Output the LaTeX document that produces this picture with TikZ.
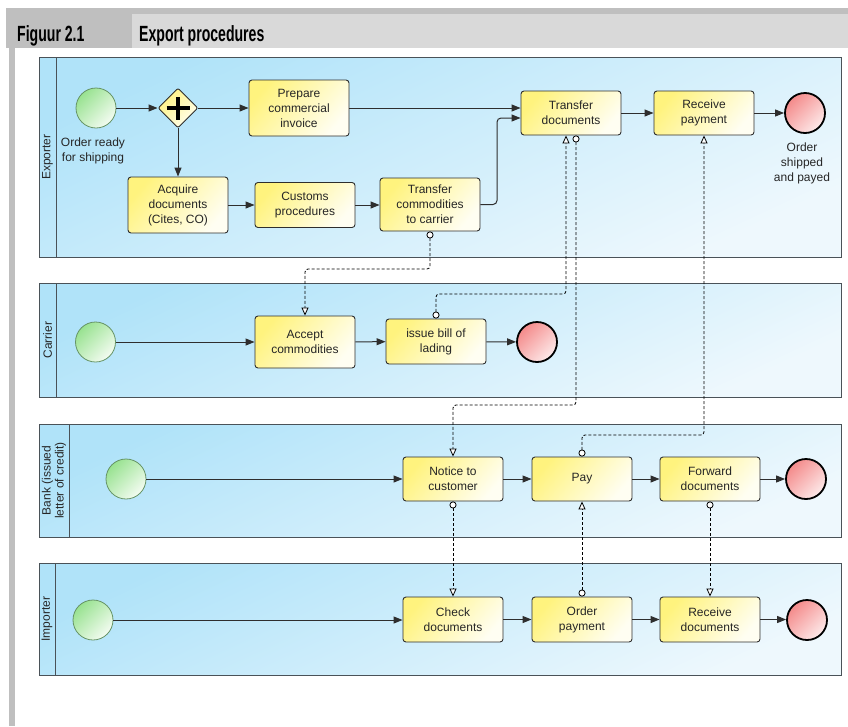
\documentclass[tikz,border=0pt]{standalone}
\usepackage{fontspec}
\setmainfont{Liberation Sans}
\newfontfamily\headfont[FakeStretch=0.64]{Liberation Sans}
\usetikzlibrary{arrows.meta,shapes.geometric,calc}
\definecolor{hdrdark}{HTML}{BFBFBF}
\definecolor{hdrlight}{HTML}{D9D9D9}
\definecolor{lanetop}{HTML}{B0E3F9}
\definecolor{lanebot}{HTML}{EEF8FD}
\definecolor{laneline}{HTML}{4A5258}
\definecolor{boxtop}{HTML}{FFF37E}
\definecolor{boxbot}{HTML}{FFFEF2}
\definecolor{greentop}{HTML}{98E290}
\definecolor{greenbot}{HTML}{F4FCF2}
\definecolor{redtop}{HTML}{F48A8A}
\definecolor{redbot}{HTML}{FDEAEA}
\definecolor{linecol}{HTML}{2E2E2E}
\tikzset{
  lane/.style={draw=laneline, line width=1pt, top color=lanetop, bottom color=lanebot, shading angle=25},
  lanelbl/.style={rotate=90, align=center, font=\fontsize{12}{13}\selectfont, text=black!85},
  task/.style={draw=linecol, line width=0.9pt, rounded corners=3pt, minimum width=100pt,
    align=center, font=\fontsize{12}{15}\selectfont, top color=boxtop, bottom color=boxbot,
    shading angle=50, inner sep=1pt, text=black!85},
  startev/.style={circle, minimum size=40pt, inner sep=0pt, draw=black!70!green!60, line width=0.8pt,
    top color=greentop, bottom color=greenbot, shading angle=45},
  endev/.style={circle, minimum size=40pt, inner sep=0pt, draw=black, line width=1.8pt,
    top color=redtop, bottom color=redbot, shading angle=45},
  gate/.style={diamond, minimum width=40pt, minimum height=40pt, inner sep=0pt, draw=linecol,
    line width=0.9pt, rounded corners=2pt, top color=boxtop, bottom color=boxbot, shading angle=45},
  flow/.style={draw=linecol, line width=1pt, -{Triangle[length=9pt,width=7pt]}},
  msg/.style={draw=black, line width=0.8pt, dash pattern=on 3pt off 2pt, rounded corners=3pt,
    {Circle[length=7pt,width=7pt,fill=white]}-{Triangle[length=8pt,width=7pt,fill=white]}},
  evlbl/.style={align=center, font=\fontsize{12}{15}\selectfont, text=black!85},
  hdr/.style={anchor=base west, inner sep=0pt, font=\headfont\bfseries\fontsize{22}{24}\selectfont}
}
\begin{document}
\begin{tikzpicture}[x=1pt,y=-1pt]
\useasboundingbox (0,0) rectangle (848,726);
% header
\fill[hdrdark] (6,8) rectangle (848,48);
\fill[hdrlight] (132,14) rectangle (848,48);
\fill[hdrdark] (9,48) rectangle (15,726);
\node[hdr] (fig) at (17,41) {Figuur 2.1};
\node[hdr] (ttl) at (139,41) {Export procedures};
% lanes
\path[lane] (39,57) rectangle (841,257);
\draw[laneline, line width=1pt] (56,57) -- (56,257);
\node[lanelbl] (l1) at (47.5,157) {Exporter};
\path[lane] (39,283) rectangle (841,397);
\draw[laneline, line width=1pt] (56,283) -- (56,397);
\node[lanelbl] (l2) at (47.5,340) {Carrier};
\path[lane] (39,424) rectangle (841,537);
\draw[laneline, line width=1pt] (69,424) -- (69,537);
\node[lanelbl] (l3) at (54,480.5) {Bank (issued\\letter of credit)};
\path[lane] (39,563) rectangle (841,675);
\draw[laneline, line width=1pt] (55,563) -- (55,675);
\node[lanelbl] (l4) at (47,619) {Importer};
% exporter
\node[startev] (s1) at (96,108) {};
\node[evlbl, anchor=north] (s1l) at (93,134) {Order ready\\for shipping};
\node[gate] (g1) at (178,108) {};
\draw[black, line width=4pt] ([xshift=-11.5pt]g1.center) -- ([xshift=11.5pt]g1.center);
\draw[black, line width=4pt] ([yshift=-11.5pt]g1.center) -- ([yshift=11.5pt]g1.center);
\node[task, minimum height=56pt] (tprep) at (299,108) {Prepare\\commercial\\invoice};
\node[task, minimum height=56pt] (tacq) at (178,205) {Acquire\\documents\\(Cites, CO)};
\node[task, minimum height=45pt] (tcust) at (305,205) {Customs\\procedures};
\node[task, minimum height=53pt] (ttcom) at (430,204.5) {Transfer\\commodities\\to carrier};
\node[task, minimum height=44pt] (ttdoc) at (571,113) {Transfer\\documents};
\node[task, minimum height=44pt] (trpay) at (704,113) {Receive\\payment};
\node[endev] (e1) at (805,113) {};
\node[evlbl, anchor=north] (e1l) at (802,139) {Order\\shipped\\and payed};
\coordinate (b1) at (497,118);
\draw[flow] (s1) -- (g1);
\draw[flow] (g1) -- (tprep);
\draw[flow] (g1) -- (tacq);
\draw[flow] (tacq) -- (tcust);
\draw[flow] (tcust) -- (ttcom.west |- tcust);
\draw[flow] (tprep.east) -- (ttdoc.west |- tprep.east);
\draw[flow, rounded corners=4pt] (ttcom.east) -| (b1) -- (ttdoc.west |- b1);
\draw[flow] (ttdoc) -- (trpay);
\draw[flow] (trpay) -- (e1);
% carrier
\node[startev] (s2) at (95.5,342) {};
\node[task, minimum height=52pt] (tacc) at (305,342) {Accept\\commodities};
\node[task, minimum height=45pt] (tbill) at (436,341.5) {issue bill of\\lading};
\node[endev] (e2) at (537,342) {};
\draw[flow] (s2) -- (tacc.west |- s2);
\draw[flow] (tacc) -- (tbill);
\draw[flow] (tbill) -- (e2);
% bank
\node[startev] (s3) at (126,479) {};
\node[task, minimum height=44pt] (tnot) at (453,479) {Notice to\\customer};
\node[task, minimum height=44pt] (tpay) at (582,479) {Pay};
\node[task, minimum height=44pt] (tfwd) at (710,479) {Forward\\documents};
\node[endev] (e3) at (806,479) {};
\draw[flow] (s3) -- (tnot);
\draw[flow] (tnot) -- (tpay);
\draw[flow] (tpay) -- (tfwd);
\draw[flow] (tfwd) -- (e3);
% importer
\node[startev] (s4) at (93,620) {};
\node[task, minimum height=45pt] (tchk) at (453,619.5) {Check\\documents};
\node[task, minimum height=45pt] (tord) at (582,619.5) {Order\\payment};
\node[task, minimum height=45pt] (trcv) at (710,619.5) {Receive\\documents};
\node[endev] (e4) at (807,620) {};
\draw[flow] (s4) -- (tchk.west |- s4);
\draw[flow] (tchk) -- (tord);
\draw[flow] (tord) -- (trcv);
\draw[flow] (trcv) -- (e4.west |- trcv);
% message flows
\coordinate (m1) at (0,269);
\coordinate (m2) at (0,294);
\coordinate (m3) at (0,405);
\coordinate (m4) at (0,435);
\draw[msg] (ttcom.south) -- (ttcom.south |- m1) -| (tacc.north);
\draw[msg] (tbill.north) -- (tbill.north |- m2) -| ([xshift=-5pt]ttdoc.south);
\draw[msg] ([xshift=5pt]ttdoc.south) -- ([xshift=5pt]ttdoc.south |- m3) -| (tnot.north);
\draw[msg] (tpay.north) -- (tpay.north |- m4) -| (trpay.south);
\draw[msg] (tnot.south) -- (tchk.north);
\draw[msg] (tord.north) -- (tpay.south);
\draw[msg] (tfwd.south) -- (trcv.north);
\end{tikzpicture}
\end{document}
